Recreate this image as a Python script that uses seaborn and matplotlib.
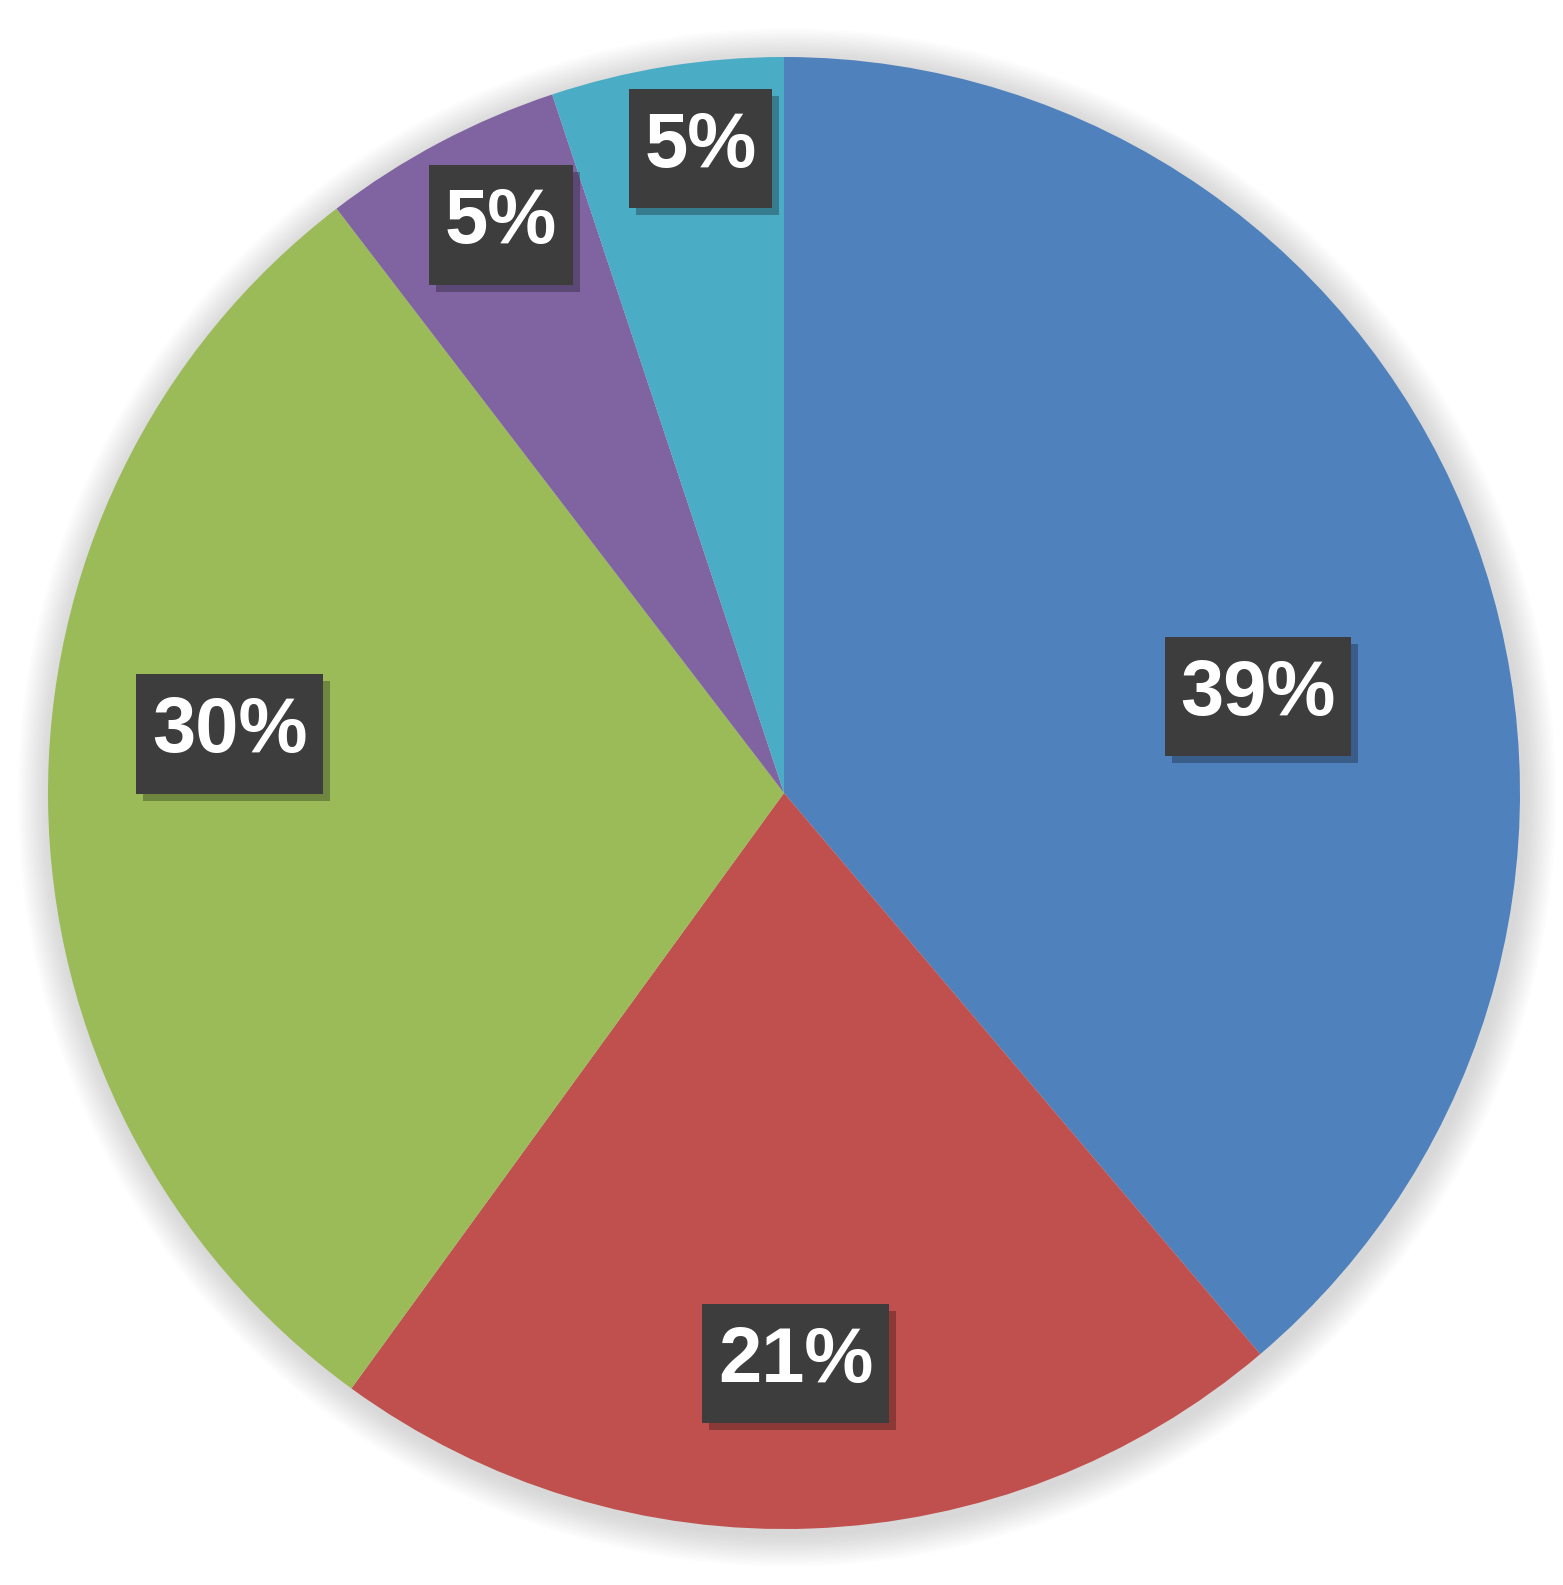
import numpy as np
import matplotlib
matplotlib.use("Agg")
import matplotlib.pyplot as plt
import matplotlib.patheffects as pe
from matplotlib.patches import Circle
from matplotlib.path import Path
import seaborn as sns

# ---- data ----
categories = ["A", "B", "C", "D", "E"]
shares = [38.8, 21.2, 29.6, 5.3, 5.1]
labels = ["39%", "21%", "30%", "5%", "5%"]

# ---- style ----
colors = ["#4F81BD", "#C0504D", "#9BBB59", "#8064A2", "#4BACC6"]
label_radius = [0.658, 0.772, 0.758, 0.865, 0.886]
label_angle_shift = [-8.4, -1.0, -7.0, -1.5, -1.8]

sns.set_theme(style="white")
plt.rcParams["font.family"] = ["Liberation Sans", "DejaVu Sans"]


def label_box(x0, y0, width, height, mutation_size):
    px, py = 0.2 * mutation_size, 0.3 * mutation_size
    x0, y0 = x0 - px, y0 - py - 0.03 * mutation_size
    x1, y1 = x0 + width + 2 * px, y0 + height + 2 * py
    return Path([(x0, y0), (x1, y0), (x1, y1), (x0, y1), (x0, y0)], closed=True)


W, H = 1563, 1585
fig = plt.figure(figsize=(W / 100, H / 100), dpi=100)
fig.patch.set_facecolor("white")
R = 736
cx, cy = 784, H - 793
ax = fig.add_axes([(cx - R) / W, (cy - R) / H, 2 * R / W, 2 * R / H])

# soft halo/shadow around the pie
for k in range(14):
    ax.add_patch(Circle((0.004, -0.006), 1.0 + 0.0032 * (k + 1), color="#7a7a7a",
                        alpha=0.018, lw=0, zorder=0, clip_on=False))

wedges, _ = ax.pie(shares, colors=colors, startangle=90, counterclock=False,
                   radius=1.0, wedgeprops=dict(linewidth=0), normalize=True)
for w in wedges:
    w.set_zorder(1)

ax.set_aspect("auto")
ax.set_xlim(-1, 1)
ax.set_ylim(-1, 1)
ax.axis("off")

for w, lab, rr, da in zip(wedges, labels, label_radius, label_angle_shift):
    mid = np.deg2rad((w.theta1 + w.theta2) / 2 + da)
    x, y = rr * np.cos(mid), rr * np.sin(mid)
    t = ax.text(x, y, lab, ha="center", va="center", color="white",
                fontsize=56, fontweight="bold", zorder=5,
                bbox=dict(boxstyle=label_box, fc="#3d3d3d", ec="none"))
    t.get_bbox_patch().set_path_effects([
        pe.SimplePatchShadow(offset=(5, -5), shadow_rgbFace="#000000", alpha=0.28),
        pe.Normal()])

fig.savefig("out.png", dpi=100, facecolor="white")
